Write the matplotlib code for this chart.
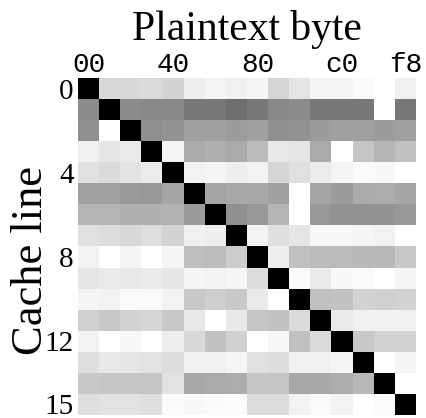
import numpy as np
import matplotlib
matplotlib.use('Agg')
import matplotlib.pyplot as plt

# gray level of each cell (0 = black, 255 = white), rows = cache lines 0..15
row00 = [0, 216, 216, 218, 211, 238, 245, 240, 245, 213, 229, 245, 245, 250, 255, 240]
row01 = [140, 0, 140, 136, 136, 120, 120, 110, 120, 136, 140, 120, 120, 120, 255, 120]
row02 = [144, 255, 0, 144, 148, 160, 160, 156, 160, 144, 148, 156, 160, 160, 156, 160]
row03 = [240, 229, 234, 0, 245, 170, 176, 170, 186, 232, 229, 170, 255, 197, 181, 192]
row04 = [224, 218, 226, 236, 0, 242, 245, 238, 242, 213, 224, 235, 245, 250, 248, 255]
row05 = [162, 162, 154, 152, 165, 0, 165, 168, 168, 160, 255, 165, 156, 170, 172, 165]
row06 = [181, 181, 176, 176, 178, 156, 0, 144, 152, 181, 255, 152, 148, 146, 148, 152]
row07 = [224, 220, 216, 222, 211, 240, 238, 0, 242, 223, 229, 248, 248, 245, 242, 255]
row08 = [242, 255, 245, 255, 245, 190, 188, 204, 0, 238, 192, 186, 186, 184, 184, 200]
row09 = [229, 234, 232, 234, 230, 245, 242, 245, 221, 0, 250, 234, 248, 250, 255, 245]
row10 = [245, 242, 250, 250, 242, 200, 206, 200, 234, 255, 0, 192, 194, 210, 208, 210]
row11 = [208, 200, 210, 213, 200, 232, 255, 232, 197, 194, 218, 0, 234, 240, 240, 240]
row12 = [242, 255, 248, 255, 238, 216, 194, 208, 255, 248, 192, 218, 0, 200, 210, 210]
row13 = [222, 232, 229, 226, 220, 240, 240, 245, 224, 220, 240, 240, 245, 0, 255, 245]
row14 = [200, 197, 197, 197, 226, 168, 170, 172, 197, 197, 168, 168, 172, 184, 0, 255]
row15 = [222, 226, 226, 222, 250, 248, 250, 252, 220, 220, 242, 250, 242, 255, 252, 0]

grid = np.array([row00, row01, row02, row03, row04, row05, row06, row07,
                 row08, row09, row10, row11, row12, row13, row14, row15])

x_ticks = [0, 4, 8, 12, 15]
x_labels = ['00', '40', '80', 'c0', 'f8']
y_ticks = [0, 4, 8, 12, 15]
y_labels = ['0', '4', '8', '12', '15']

fig = plt.figure(figsize=(4.26, 4.18), dpi=100)
ax = fig.add_axes([78 / 426, 1 - 415 / 418, 338 / 426, 337 / 418])

ax.imshow(grid, cmap='gray', vmin=0, vmax=255, aspect='auto',
          interpolation='nearest')

ax.xaxis.tick_top()
ax.xaxis.set_label_position('top')
ax.set_xticks(x_ticks)
ax.set_xticklabels(x_labels, fontfamily='Liberation Mono', fontsize=20)
ax.set_yticks(y_ticks)
ax.set_yticklabels(y_labels, fontfamily='Liberation Serif', fontsize=21)
ax.tick_params(length=0)
ax.tick_params(axis='x', pad=0)
ax.tick_params(axis='y', pad=3)

ax.set_xlabel('Plaintext byte', fontfamily='Liberation Serif', fontsize=30)
ax.xaxis.set_label_coords(0.5, 1.114)
ax.set_ylabel('Cache line', fontfamily='Liberation Serif', fontsize=32)
ax.yaxis.set_label_coords(-0.08, 0.457)

for s in ax.spines.values():
    s.set_visible(False)

fig.savefig('out.png', dpi=100)
